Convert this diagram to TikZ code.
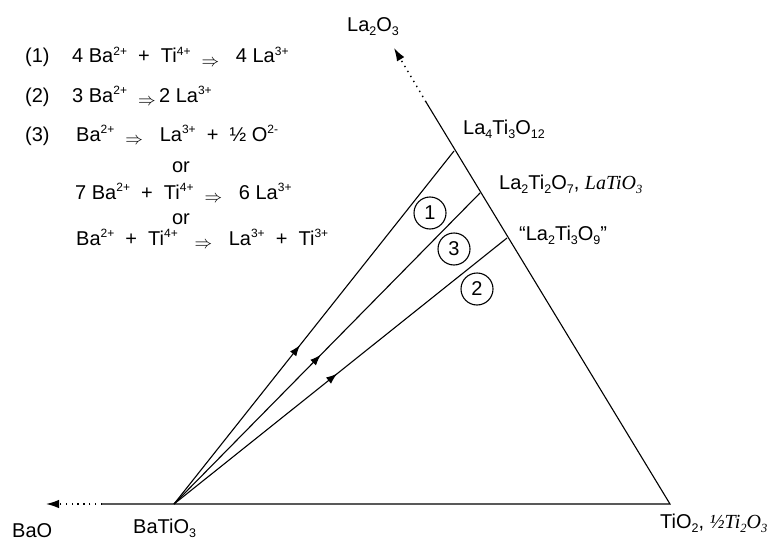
\documentclass[tikz,border=0pt]{standalone}
\usepackage{fontspec}
\usepackage{graphicx}
\setmainfont{Liberation Sans}
\newfontfamily\tnr{Liberation Serif}
\usetikzlibrary{arrows.meta,decorations.markings}
\newcommand\impl{\raisebox{-0.33ex}{\scalebox{0.85}{$\Rightarrow$}}}
\newcommand\sps[1]{\raisebox{0.36em}{\fontsize{12}{12}\selectfont #1}}
\newcommand\sbs[1]{\raisebox{-0.2em}{\fontsize{12.5}{12}\selectfont #1}}
\newcommand\pl{\ \ +\ \ }
\newcommand\ia{\ \ \impl\ \ \ }
\begin{document}
\begin{tikzpicture}[x=1pt,y=-1pt,
  every node/.style={inner sep=0pt,font=\fontsize{20}{24}\selectfont},
  lbl/.style={anchor=base west},
  edge/.style={line width=1.1pt},
  dots/.style={line width=1.4pt,dash pattern=on 1.4pt off 4.4pt},
  tip/.style={-{Latex[length=13pt,width=8.5pt]}},
  midarrow/.style={postaction={decorate},decoration={markings,
     mark=at position #1 with {\arrow{Latex[length=11pt,width=8pt]}}}},
  num/.style={draw,circle,line width=1.1pt,minimum size=32pt,inner sep=0pt}]
\useasboundingbox (0,0) rectangle (776,543);
% triangle geometry
\coordinate (B) at (174,504);
\coordinate (T) at (670,504);
\coordinate (Ls) at (426,102);
\coordinate (Lt) at (394,48);
\coordinate (Bs) at (102,504);
\coordinate (Bt) at (46,504);
\coordinate (P1) at (454,151);
\coordinate (P3) at (480,193);
\coordinate (P2) at (507,238);
\draw[edge] (Bs) -- (T) -- (Ls);
\draw[dots,tip] (Ls) -- (Lt);
\draw[dots,tip] (Bs) -- (Bt);
% substitution lines
\draw[edge,midarrow=0.45] (B) -- (P1);
\draw[edge,midarrow=0.48] (B) -- (P3);
\draw[edge,midarrow=0.49] (B) -- (P2);
% circled numbers
\node[num] (c1) at (430,213) {1};
\node[num] (c3) at (454,249) {3};
\node[num] (c2) at (477,289) {2};
% corner labels
\node[lbl] (la2o3) at (347,32) {La\sbs{2}O\sbs{3}};
\node[lbl] (la4) at (463,134) {La\sbs{4}Ti\sbs{3}O\sbs{12}};
\node[lbl] (la2ti2) at (499,189) {La\sbs{2}Ti\sbs{2}O\sbs{7}, {\tnr\itshape LaTiO\sbs{3}}};
\node[lbl] (la2ti3) at (519,240) {“La\sbs{2}Ti\sbs{3}O\sbs{9}”};
\node[lbl] (bao) at (12,537) {BaO};
\node[lbl] (batio3) at (133,533) {BaTiO\sbs{3}};
\node[lbl] (tio2) at (660,528) {TiO\sbs{2}, {\tnr\itshape ½Ti\sbs{2}O\sbs{3}}};
% equations
\node[lbl] (n1) at (25,63) {(1)};
\node[lbl] (e1) at (72,63) {4 Ba\sps{2+}\pl Ti\sps{4+}\ia 4 La\sps{3+}};
\node[lbl] (n2) at (25,102) {(2)};
\node[lbl] (e2) at (72,102) {3 Ba\sps{2+}\ \ \impl\,2 La\sps{3+}};
\node[lbl] (n3) at (25,141) {(3)};
\node[lbl] (e3) at (76,141) {Ba\sps{2+}\ia La\sps{3+}\pl ½ O\sps{2-}};
\node[anchor=base] (or1) at (181,172) {or};
\node[lbl] (e4) at (75,199) {7 Ba\sps{2+}\pl Ti\sps{4+}\ia 6 La\sps{3+}};
\node[anchor=base] (or2) at (181,224) {or};
\node[lbl] (e5) at (76,245) {Ba\sps{2+}\pl Ti\sps{4+}\ \ \ \impl\ \ \ La\sps{3+}\pl Ti\sps{3+}};
\end{tikzpicture}
\end{document}
